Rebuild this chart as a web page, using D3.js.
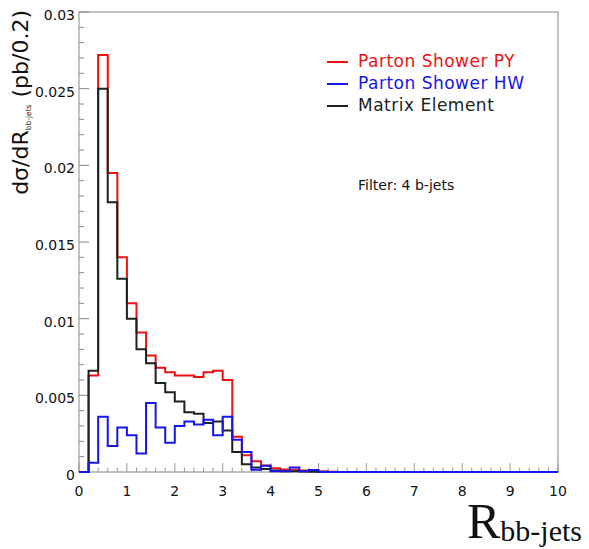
<!DOCTYPE html>
<html><head><meta charset="utf-8">
<script src="https://cdn.jsdelivr.net/npm/d3@7"></script>
<style>body{margin:0;background:#fff}svg{display:block}</style>
</head><body>
<script>
// ---- data (bin width 0.2, R from 0 to 10, 50 bins) ----
const binWidth = 0.2;
const partonShowerPY = [0, 0.0063, 0.0272, 0.0195, 0.0140, 0.0110, 0.0091, 0.0076, 0.0068, 0.0065,
  0.0063, 0.0063, 0.0062, 0.0065, 0.0066, 0.0060, 0.0023, 0.0011, 0.0007, 0.00043,
  0.00024, 0.00017, 0.00014, 0.0001, 0.00006, 0.00003, 0.00002, 0, 0, 0,
  0, 0, 0, 0, 0, 0, 0, 0, 0, 0,
  0, 0, 0, 0, 0, 0, 0, 0, 0, 0];
const matrixElement = [0, 0.0066, 0.0250, 0.0176, 0.0126, 0.0100, 0.0080, 0.0071, 0.0058, 0.0052,
  0.0046, 0.0039, 0.0038, 0.0032, 0.0033, 0.0027, 0.0013, 0.0005, 0.0003, 0.0002,
  0.0001, 0.00005, 0.00005, 0.00003, 0.00002, 0.00001, 0, 0, 0, 0,
  0, 0, 0, 0, 0, 0, 0, 0, 0, 0,
  0, 0, 0, 0, 0, 0, 0, 0, 0, 0];
const partonShowerHW = [0, 0.0006, 0.0036, 0.0017, 0.0029, 0.0024, 0.0012, 0.0045, 0.0029, 0.0019,
  0.0030, 0.0033, 0.0031, 0.0034, 0.0024, 0.0036, 0.0021, 0.0013, 0.00015, 0.0004,
  0.00005, 0.00005, 0.0003, 0.00005, 0.00013, 0, 0, 0, 0, 0,
  0, 0, 0, 0, 0, 0, 0, 0, 0, 0,
  0, 0, 0, 0, 0, 0, 0, 0, 0, 0];
const xTicks = [0, 1, 2, 3, 4, 5, 6, 7, 8, 9, 10];
const yTicks = [0, 0.005, 0.01, 0.015, 0.02, 0.025, 0.03];
const yTickLabels = ["0", "0.005", "0.01", "0.015", "0.02", "0.025", "0.03"];
const legendLabels = ["Parton Shower PY", "Parton Shower HW", "Matrix Element"];
const legendColors = ["#ee1111", "#1515ee", "#1c221c"];

// ---- layout ----
const W = 589, H = 549;
const L = 79, R = 558, T = 12, B = 472;
const x = d3.scaleLinear().domain([0, 10]).range([L, R]);
const y = d3.scaleLinear().domain([0, 0.03]).range([B, T]);

const svg = d3.select("body").append("svg").attr("width", W).attr("height", H);
const font = "'DejaVu Sans', sans-serif";

// frame
svg.append("rect").attr("x", L).attr("y", T).attr("width", R - L).attr("height", B - T)
  .attr("fill", "none").attr("stroke", "#999").attr("stroke-width", 1.2);

// y axis ticks
const yMinor = d3.range(0, 0.03001, 0.001);
svg.append("g").selectAll("line").data(yMinor).join("line")
  .attr("x1", L).attr("x2", (d, i) => L + (i % 5 === 0 ? 10 : 5))
  .attr("y1", d => y(d)).attr("y2", d => y(d))
  .attr("stroke", "#888").attr("stroke-width", 1);
svg.append("g").selectAll("text").data(yTicks).join("text")
  .attr("x", 75).attr("y", d => y(d) + 3).attr("dy", "0.35em")
  .attr("text-anchor", "end").attr("font-family", font).attr("font-size", 14)
  .attr("fill", "#111").text((d, i) => yTickLabels[i]);

// x axis ticks
const xMinor = d3.range(0, 10.001, 0.2);
svg.append("g").selectAll("line").data(xMinor).join("line")
  .attr("x1", d => x(d)).attr("x2", d => x(d))
  .attr("y1", B).attr("y2", (d, i) => B - (i % 5 === 0 ? 9 : 4.5))
  .attr("stroke", "#999").attr("stroke-width", 1);
svg.append("g").selectAll("text").data(xTicks).join("text")
  .attr("x", d => x(d)).attr("y", 496)
  .attr("text-anchor", "middle").attr("font-family", font).attr("font-size", 14)
  .attr("fill", "#111").text(d => d);

// histograms
const line = d3.line().x(d => x(d[0])).y(d => y(d[1])).curve(d3.curveStepAfter);
function histPts(vals) {
  const pts = [[0, 0]];
  vals.forEach((v, i) => pts.push([i * binWidth, v]));
  pts.push([vals.length * binWidth, vals[vals.length - 1]]);
  pts.push([vals.length * binWidth, 0]);
  return pts;
}
[[partonShowerPY, legendColors[0]], [matrixElement, legendColors[2]], [partonShowerHW, legendColors[1]]]
  .forEach(([vals, col]) => {
    svg.append("path").attr("d", line(histPts(vals))).attr("fill", "none")
      .attr("stroke", col).attr("stroke-width", 2);
  });

// legend
const legY = [62, 84, 106];
legendLabels.forEach((lab, i) => {
  svg.append("line").attr("x1", 327).attr("x2", 348).attr("y1", legY[i]).attr("y2", legY[i])
    .attr("stroke", legendColors[i]).attr("stroke-width", 2);
  svg.append("text").attr("x", 358).attr("y", legY[i] - 1).attr("dy", "0.35em")
    .attr("font-family", font).attr("font-size", 17).attr("letter-spacing", 0.5)
    .attr("fill", legendColors[i]).text(lab);
});

// filter note
svg.append("text").attr("x", 358).attr("y", 185).attr("dy", "0.35em")
  .attr("font-family", font).attr("font-size", 14).attr("fill", "#111").text("Filter: 4 b-jets");

// y title
const yt = svg.append("text").attr("transform", "translate(28,10) rotate(-90)")
  .attr("text-anchor", "end").attr("font-family", font).attr("font-size", 22).attr("fill", "#111");
yt.append("tspan").text("dσ/dR");
yt.append("tspan").attr("font-size", 7.5).attr("dy", 3).text("bb-jets");
yt.append("tspan").attr("dy", -3).text(" (pb/0.2)");

// x title
const xt = svg.append("text").attr("x", 467).attr("y", 538)
  .attr("font-family", "'Liberation Serif', 'Times New Roman', serif").attr("fill", "#111");
xt.append("tspan").attr("font-size", 50).text("R");
xt.append("tspan").attr("font-size", 30).attr("dy", 3).text("bb-jets");
</script>
</body></html>
